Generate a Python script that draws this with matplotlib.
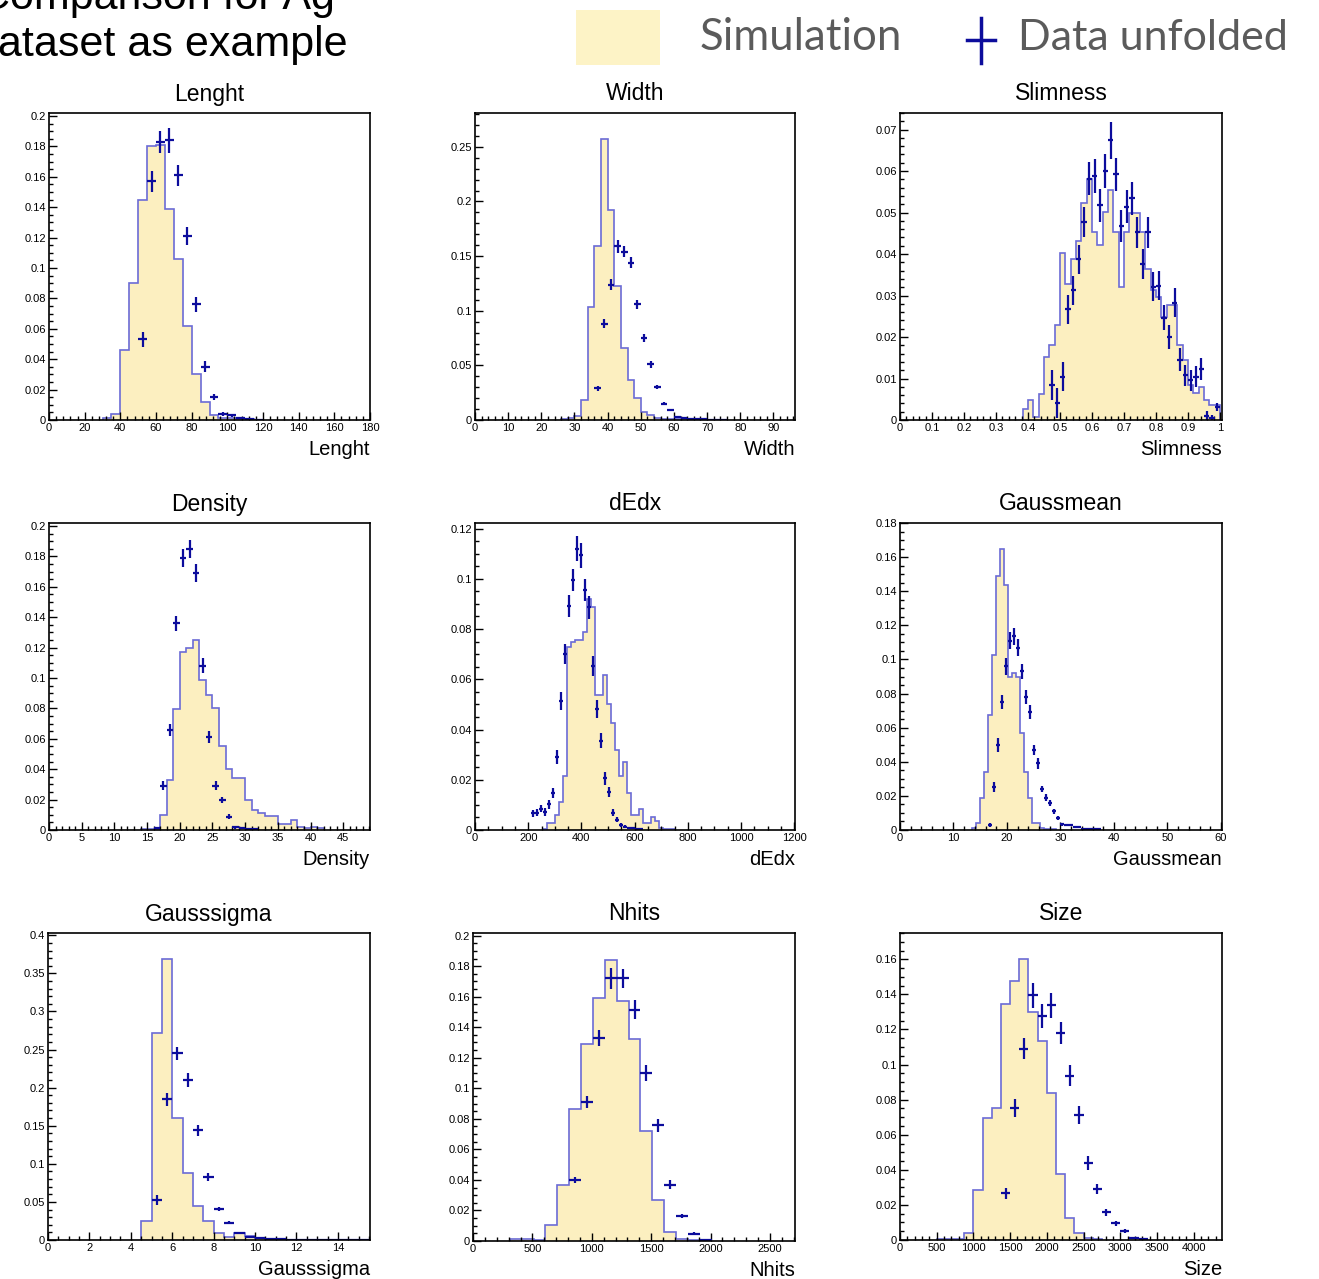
import numpy as np
import matplotlib.pyplot as plt
from matplotlib.patches import Rectangle
from matplotlib.lines import Line2D
from matplotlib.ticker import MultipleLocator, AutoMinorLocator, FuncFormatter

plt.rcParams['font.family'] = ['Liberation Sans', 'DejaVu Sans']

W, H = 1319, 1279

# ---------------- data ----------------
# Lenght, bins of 5
len_bin = 5
len_sim_lo = 30
len_sim = [0.001, 0.004, 0.046, 0.090, 0.145, 0.180, 0.181, 0.139, 0.106, 0.062,
           0.030, 0.0116, 0.003, 0.0015, 0.001, 0.0005, 0.0005, 0.0003]
len_dat_lo = 50
len_dat = [0.053, 0.157, 0.183, 0.184, 0.161, 0.121, 0.076, 0.035, 0.015, 0.004,
           0.003, 0.001, 0.0005, 0.0003]
len_err = [0.005, 0.007, 0.007, 0.008, 0.007, 0.006, 0.005, 0.0037, 0.002, 0.0012,
           0.001, 0.0005, 0.0003, 0.0002]

# Width, bins of 2
wid_bin = 2
wid_sim_lo = 26
wid_sim = [0.001, 0.0015, 0.004, 0.018, 0.103, 0.159, 0.257, 0.192, 0.123, 0.066,
           0.037, 0.020, 0.007, 0.005, 0.0015, 0.001, 0.001, 0.0005, 0.0005]
wid_dat_lo = 36
wid_dat = [0.029, 0.088, 0.124, 0.159, 0.154, 0.144, 0.106, 0.075, 0.051, 0.030,
           0.015, 0.009, 0.0025, 0.002, 0.001, 0.0007, 0.0005, 0.0004, 0.0003, 0.0003]
wid_err = [0.002, 0.004, 0.005, 0.006, 0.005, 0.005, 0.004, 0.004, 0.003, 0.002,
           0.0015, 0.001, 0.0008, 0.0007, 0.0005, 0.0004, 0.0003, 0.0003, 0.0002, 0.0002]

# Slimness, 60 bins over 0..1
slim_bin = 1 / 60
slim_sim_lo = 23 / 60
slim_sim = [0.0026, 0.0048, 0.0008, 0.0062, 0.0151, 0.0181, 0.0229, 0.0403, 0.0329, 0.0389,
            0.0431, 0.0524, 0.0582, 0.0454, 0.0423, 0.0502, 0.0554, 0.0454, 0.032, 0.0454,
            0.050, 0.050, 0.0454, 0.0365, 0.0313, 0.0297, 0.0249, 0.0277, 0.0277, 0.018,
            0.0145, 0.0085, 0.0065, 0.008, 0.0048, 0.0036, 0.0036]
slim_dat_lo = 28 / 60
slim_dat = [0.0084, 0.004, 0.0104, 0.0267, 0.0313, 0.0387, 0.0478, 0.0582, 0.0588, 0.0518,
            0.060, 0.0674, 0.0592, 0.0468, 0.0514, 0.0534, 0.0452, 0.0377, 0.0452, 0.0321,
            0.0324, 0.0246, 0.020, 0.0283, 0.0145, 0.0108, 0.0096, 0.0104, 0.0123, 0.001,
            0.0004, 0.0032]
slim_err = [0.0036, 0.0036, 0.0035, 0.0035, 0.0035, 0.0036, 0.0036, 0.004, 0.004, 0.004,
            0.004, 0.0045, 0.004, 0.0038, 0.004, 0.004, 0.0038, 0.0036, 0.0038, 0.0035,
            0.0035, 0.003, 0.003, 0.0035, 0.0028, 0.0025, 0.0025, 0.0025, 0.0026, 0.0012,
            0.0008, 0.001]

# Density, bins of 1
den_bin = 1
den_sim_lo = 14
den_sim = [0.0005, 0.0005, 0.0005, 0.0099, 0.033, 0.0796, 0.117, 0.120, 0.125, 0.099,
           0.089, 0.080, 0.055, 0.040, 0.0344, 0.0344, 0.020, 0.013, 0.011, 0.0092,
           0.0092, 0.004, 0.004, 0.0066, 0.0022, 0.001, 0.002, 0.001]
den_dat_lo = 16
den_dat = [0.001, 0.029, 0.066, 0.136, 0.179, 0.185, 0.169, 0.108, 0.061, 0.029,
           0.020, 0.0088, 0.0018, 0.001, 0.0005, 0.0005]
den_err = [0.0005, 0.003, 0.004, 0.005, 0.006, 0.006, 0.006, 0.005, 0.004, 0.003,
           0.002, 0.0015, 0.001, 0.0005, 0.0003, 0.0003]

# dEdx, bins of 15
dedx_bin = 15
dedx_sim_lo = 255
dedx_sim = [0.0005, 0.0027, 0.0027, 0.006, 0.0113, 0.0215, 0.073, 0.0748, 0.0755, 0.0758,
            0.079, 0.092, 0.0886, 0.0537, 0.0537, 0.0617, 0.050, 0.0427, 0.0318, 0.0216,
            0.0272, 0.0146, 0.006, 0.006, 0.0082, 0.0027, 0.0027, 0.005, 0.0035, 0.0008,
            0.0005, 0.0005, 0.0005]
dedx_dat_lo = 210
dedx_dat = [0.0066, 0.0069, 0.0085, 0.0072, 0.0103, 0.0148, 0.0292, 0.0514, 0.0701, 0.0891,
            0.0995, 0.112, 0.1094, 0.0955, 0.0886, 0.0653, 0.0482, 0.0355, 0.0205, 0.0152,
            0.0069, 0.004, 0.002, 0.0013, 0.0008, 0.0006, 0.0005, 0.0005]
dedx_err = [0.0015, 0.0015, 0.0015, 0.0015, 0.0018, 0.002, 0.0028, 0.0035, 0.004, 0.0045,
            0.0045, 0.005, 0.005, 0.0045, 0.0045, 0.004, 0.0035, 0.003, 0.0025, 0.002,
            0.0015, 0.001, 0.0008, 0.0005, 0.0004, 0.0003, 0.0003, 0.0003]

# Gaussmean, bins of 0.75
gm_bin = 0.75
gm_sim_lo = 13.5
gm_sim = [0.001, 0.004, 0.0185, 0.034, 0.0677, 0.1025, 0.149, 0.1646, 0.1435, 0.0898,
          0.092, 0.0898, 0.0566, 0.034, 0.0185, 0.004, 0.004, 0.001, 0.0005, 0.0005, 0.0005]
gm_dat_lo = 16.5
gm_dat = [0.003, 0.025, 0.05, 0.075, 0.096, 0.111, 0.1136, 0.107, 0.093, 0.078,
          0.069, 0.047, 0.039, 0.024, 0.019, 0.0156, 0.011, 0.0068, 0.0033, 0.003,
          0.003, 0.0016, 0.0016, 0.0008, 0.0008, 0.0006, 0.0005, 0.0005]
gm_err = [0.001, 0.003, 0.004, 0.004, 0.005, 0.005, 0.005, 0.005, 0.0045, 0.004,
          0.004, 0.003, 0.003, 0.002, 0.002, 0.0018, 0.0015, 0.0012, 0.0008, 0.0008,
          0.0008, 0.0005, 0.0005, 0.0003, 0.0003, 0.0003, 0.0002, 0.0002]

# Gausssigma, bins of 0.5
gs_bin = 0.5
gs_sim_lo = 4.5
gs_sim = [0.0254, 0.272, 0.369, 0.160, 0.088, 0.045, 0.0254, 0.0096, 0.0035, 0.0096,
          0.0057, 0.002, 0.001, 0.001, 0.0005]
gs_dat_lo = 5.0
gs_dat = [0.0525, 0.1845, 0.245, 0.21, 0.144, 0.083, 0.0407, 0.0227, 0.009, 0.004,
          0.002, 0.001, 0.0008, 0.0005, 0.0005, 0.0004, 0.0003, 0.0003, 0.0003, 0.0003, 0.0002]
gs_err = [0.006, 0.008, 0.009, 0.009, 0.007, 0.005, 0.003, 0.002, 0.0015, 0.001,
          0.0008, 0.0005, 0.0004, 0.0003, 0.0003, 0.0002, 0.0002, 0.0002, 0.0002, 0.0002, 0.0002]

# Nhits, bins of 100
nh_bin = 100
nh_sim_lo = 310
nh_sim = [0.001, 0.001, 0.0008, 0.0102, 0.037, 0.0866, 0.129, 0.159, 0.184, 0.157,
          0.132, 0.072, 0.0266, 0.0059, 0.001, 0.0005]
nh_dat_lo = 810
nh_dat = [0.0397, 0.091, 0.133, 0.172, 0.172, 0.1516, 0.110, 0.0757, 0.037, 0.0164,
          0.0048, 0.0004]
nh_err = [0.002, 0.004, 0.005, 0.007, 0.006, 0.006, 0.005, 0.004, 0.003, 0.0015,
          0.001, 0.0003]

# Size, bins of 125
sz_bin = 125
sz_sim_lo = 500
sz_sim = [0.0005, 0.0005, 0.0003, 0.0038, 0.0285, 0.0697, 0.0755, 0.1347, 0.1475, 0.160,
          0.130, 0.1133, 0.084, 0.0374, 0.0123, 0.0042, 0.001, 0.0005]
sz_dat_lo = 1375
sz_dat = [0.0266, 0.0753, 0.109, 0.1395, 0.1277, 0.1338, 0.118, 0.0936, 0.0712, 0.0437,
          0.029, 0.0158, 0.0095, 0.0051, 0.001, 0.0004]
sz_err = [0.003, 0.005, 0.006, 0.007, 0.007, 0.007, 0.006, 0.006, 0.005, 0.004,
          0.003, 0.002, 0.0015, 0.001, 0.0004, 0.0003]

names = ['Lenght', 'Width', 'Slimness', 'Density', 'dEdx', 'Gaussmean',
         'Gausssigma', 'Nhits', 'Size']
hists = [
    (len_bin, len_sim_lo, len_sim, len_dat_lo, len_dat, len_err),
    (wid_bin, wid_sim_lo, wid_sim, wid_dat_lo, wid_dat, wid_err),
    (slim_bin, slim_sim_lo, slim_sim, slim_dat_lo, slim_dat, slim_err),
    (den_bin, den_sim_lo, den_sim, den_dat_lo, den_dat, den_err),
    (dedx_bin, dedx_sim_lo, dedx_sim, dedx_dat_lo, dedx_dat, dedx_err),
    (gm_bin, gm_sim_lo, gm_sim, gm_dat_lo, gm_dat, gm_err),
    (gs_bin, gs_sim_lo, gs_sim, gs_dat_lo, gs_dat, gs_err),
    (nh_bin, nh_sim_lo, nh_sim, nh_dat_lo, nh_dat, nh_err),
    (sz_bin, sz_sim_lo, sz_sim, sz_dat_lo, sz_dat, sz_err),
]

# ---------------- layout / style ----------------
# frame boxes in pixels: left, right, top, bottom
boxes = [(49, 370, 113, 420), (475, 795, 113, 420), (900, 1222, 113, 420),
         (49, 370, 523, 830), (475, 795, 523, 830), (900, 1222, 523, 830),
         (48, 370, 933, 1240), (473, 795, 933, 1241), (900, 1222, 933, 1240)]
# xmax, ymax, x major, x minor div, y major, y minor div
axis_cfg = [(180, 0.202, 20, 5, 0.02, 4),
            (96.5, 0.281, 10, 5, 0.05, 5),
            (1.006, 0.074, 0.1, 5, 0.01, 5),
            (49.1, 0.202, 5, 5, 0.02, 4),
            (1203, 0.1222, 200, 4, 0.02, 4),
            (60.2, 0.18, 10, 5, 0.02, 4),
            (15.55, 0.403, 2, 4, 0.05, 5),
            (2711, 0.2017, 500, 5, 0.02, 4),
            (4386, 0.175, 500, 5, 0.02, 4)]

fill_col = '#fcefc0'
line_col = '#6b6bd6'
dat_col = '#0c0c9c'

fmt = FuncFormatter(lambda v, p: '%g' % round(v, 6))

fig = plt.figure(figsize=(W / 100, H / 100), dpi=100)

for name, h, box, cfg in zip(names, hists, boxes, axis_cfg):
    binw, s_lo, sim, d_lo, dat, err = h
    l, r, t, b = box
    ax = fig.add_axes([l / W, 1 - b / H, (r - l) / W, (b - t) / H])

    edges = s_lo + binw * np.arange(len(sim) + 1)
    ax.stairs(sim, edges, fill=True, color=fill_col, lw=0)
    ax.stairs(sim, edges, color=line_col, lw=1.2)

    centers = d_lo + binw * (np.arange(len(dat)) + 0.5)
    ax.errorbar(centers, dat, xerr=binw / 2, yerr=err, fmt='none',
                ecolor=dat_col, elinewidth=1.6, capsize=0)

    xmax, ymax, xmaj, xmin_n, ymaj, ymin_n = cfg
    ax.set_xlim(0, xmax)
    ax.set_ylim(0, ymax)
    ax.xaxis.set_major_locator(MultipleLocator(xmaj))
    ax.xaxis.set_minor_locator(AutoMinorLocator(xmin_n))
    ax.yaxis.set_major_locator(MultipleLocator(ymaj))
    ax.yaxis.set_minor_locator(AutoMinorLocator(ymin_n))
    ax.xaxis.set_major_formatter(fmt)
    ax.yaxis.set_major_formatter(fmt)
    ax.tick_params(which='both', direction='in', top=False, right=False,
                   labelsize=8, width=1, colors='black')
    ax.tick_params(which='major', length=5.5, pad=2)
    ax.tick_params(which='minor', length=3)
    for sp in ax.spines.values():
        sp.set_linewidth(1.2)

    ax.set_title(name, fontsize=16.5, pad=9)
    ax.text(1, -35 / (b - t), name, transform=ax.transAxes, ha='right',
            va='baseline', fontsize=14.5)

# header text, partly cut off by the figure edge as in the screenshot
fig.text(335 / W, 1 - 9 / H, 'Comparison for Ag', ha='right', va='baseline', fontsize=31)
fig.text(348 / W, 1 - 56 / H, 'dataset as example', ha='right', va='baseline', fontsize=31)

# legend
fig.add_artist(Rectangle((576 / W, 1 - 65 / H), 84 / W, 55 / H, transform=fig.transFigure,
                         facecolor='#fdf3c6', edgecolor='none'))
fig.text(700 / W, 1 - 38 / H, 'Simulation', ha='left', va='center', fontsize=31.5,
         color='#5b5b5b', family='Lato')
fig.add_artist(Line2D([981 / W, 981 / W], [1 - 18 / H, 1 - 63 / H],
                      transform=fig.transFigure, color=dat_col, lw=2.5))
fig.add_artist(Line2D([967 / W, 995 / W], [1 - 40 / H, 1 - 40 / H],
                      transform=fig.transFigure, color=dat_col, lw=2.5))
fig.text(1018 / W, 1 - 38 / H, 'Data unfolded', ha='left', va='center', fontsize=31,
         color='#5b5b5b', family='Lato')

fig.savefig('out.png', dpi=100)
